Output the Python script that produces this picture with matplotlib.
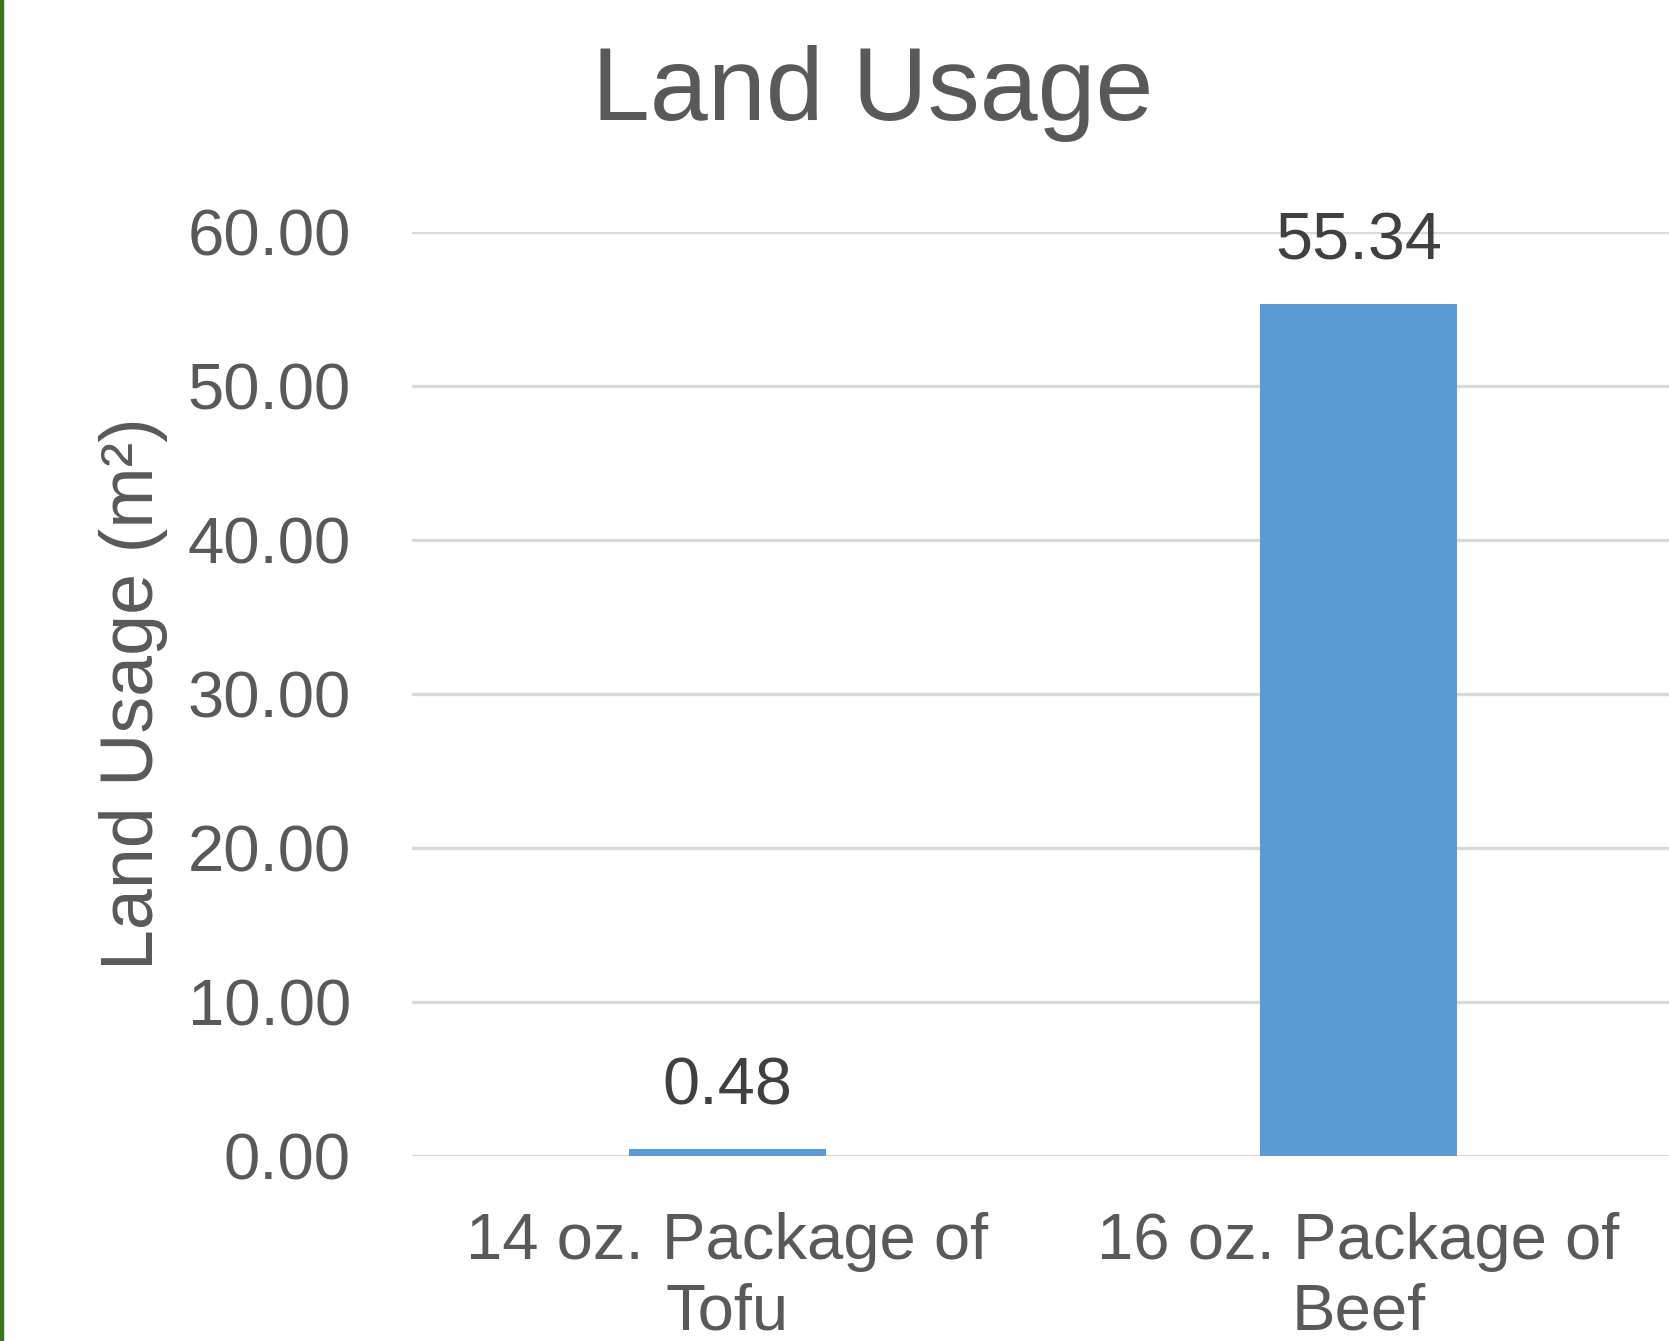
import matplotlib
matplotlib.use('Agg')
import matplotlib.pyplot as plt
from matplotlib.patches import Rectangle

plt.rcParams['font.family'] = ['Liberation Sans', 'DejaVu Sans']

# data
categories = ["14 oz. Package of\nTofu", "16 oz. Package of\nBeef"]
land_usage = [0.48, 55.34]
y_ticks = [0, 10, 20, 30, 40, 50, 60]

text_gray = "#595959"
bar_blue = "#5b9bd5"
grid_gray = "#d9d9d9"

fig = plt.figure(figsize=(16.69, 13.41), dpi=100)
ax = fig.add_axes([412 / 1669, 185 / 1341, 1262 / 1669, 924 / 1341])

x = list(range(len(categories)))
bars = ax.bar(x, land_usage, width=0.313, color=bar_blue, zorder=3)

# value labels above bars
for xi, v in zip(x, land_usage):
    ax.annotate(f"{v:.2f}", (xi, v), xytext=(0, 22), textcoords="offset points",
                ha="center", va="bottom", fontsize=48, color="#404040",
                annotation_clip=False)

ax.set_xlim(-0.5, 1.5)
ax.set_ylim(0, 60)
ax.set_yticks(y_ticks)
ax.set_yticklabels([f"{t:.2f}" for t in y_ticks])
ax.set_xticks(x)
ax.set_xticklabels(categories, linespacing=1.23)

ax.tick_params(axis="y", length=0, pad=44, labelsize=47, labelcolor=text_gray)
ax.tick_params(axis="x", length=0, pad=40, labelsize=47, labelcolor=text_gray)

ax.grid(axis="y", color=grid_gray, linewidth=2.4, zorder=0)
for s in ax.spines.values():
    s.set_visible(False)

fig.text(873 / 1669, 1 - 94 / 1341, "Land Usage", ha="center", va="center",
         fontsize=75, color=text_gray)
fig.text(133 / 1669, 1 - 694 / 1341, "Land Usage (m²)", ha="center", va="center",
         rotation=90, fontsize=53, color=text_gray)

# green frame edge on the left
fig.patches.append(Rectangle((0, 0), 2.5 / 1669, 1, transform=fig.transFigure,
                             color="#38761d", zorder=10))

fig.savefig("out.png", dpi=100)
